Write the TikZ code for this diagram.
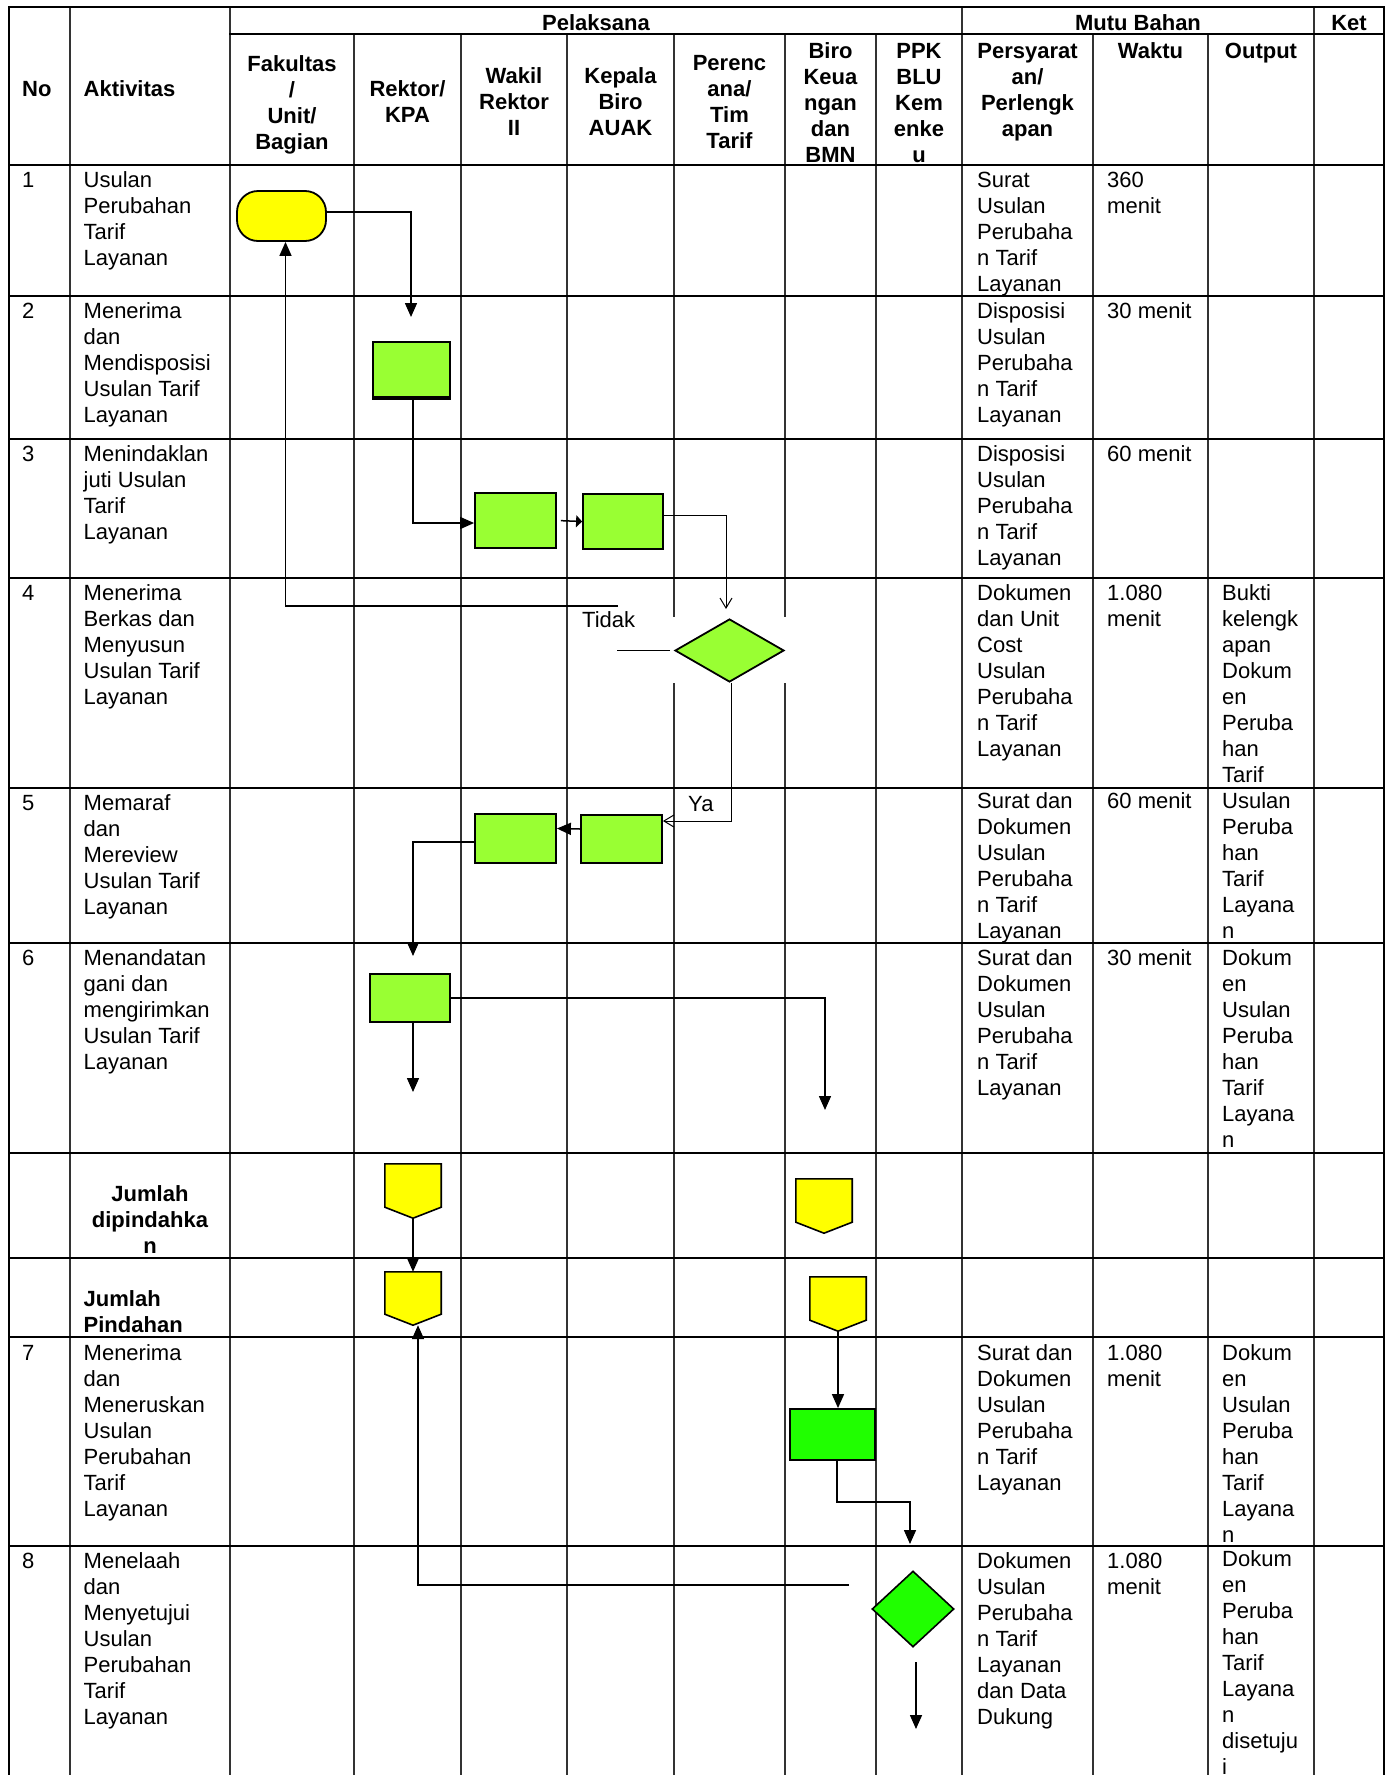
\documentclass[tikz,border=0pt]{standalone}
\usepackage{fontspec}
\setmainfont{Liberation Sans}
\usetikzlibrary{arrows.meta,shapes.geometric,calc}
\definecolor{lgreen}{RGB}{153,255,51}
\definecolor{bgreen}{RGB}{32,255,0}
\definecolor{yel}{RGB}{255,255,0}
\newcommand\bodycell[4]{\node[body] (#1) at (#2,#3) {\strut #4};}
\begin{document}
\begin{tikzpicture}[x=1pt,y=-1pt,
  hl/.style={line width=2.2pt,line cap=rect},
  vl/.style={line width=1.3pt,black!80},
  ob/.style={line width=2.2pt},
  body/.style={font=\fontsize{22}{26}\selectfont,inner sep=0pt,anchor=north west,align=left},
  head/.style={font=\fontsize{22}{26}\selectfont\bfseries,inner sep=0pt,anchor=north,align=center},
  gbox/.style={draw,line width=1.8pt,fill=lgreen,rectangle,inner sep=0pt},
  pent/.style={draw,line width=1.6pt,fill=yel},
  holder/.style={rectangle,inner sep=0pt,draw=none},
  arr/.style={line width=1.5pt,-{Triangle[length=14pt,width=12pt]}},
  sarr/.style={line width=1.5pt,-{Triangle[length=6pt,width=12pt]}},
  oarr/.style={line width=1pt,-{Straight Barb[length=10pt,width=12pt]}},
  pl/.style={line width=1.5pt}]
\fill[white] (0,0) rectangle (1392,1775);
\useasboundingbox (0,0) rectangle (1392,1775);

% ---------- grid ----------
\foreach \x in {354,461,567,674,785,876,1093,1208} \draw[vl] (\x,34) -- (\x,1775);
\foreach \x in {70,230,962,1314} \draw[vl] (\x,7) -- (\x,1775);
\draw[ob] (9,7) -- (9,1775);
\draw[ob] (1384,7) -- (1384,1775);
\draw[hl] (9,7) -- (1384,7);
\draw[hl] (230,34) -- (1384,34);
\foreach \y in {165,296,439,578,788,943,1153,1258,1337,1546} \draw[hl] (9,\y) -- (1384,\y);

% ---------- header ----------
\node[head,anchor=north west] (hno) at (22,77.8) {\strut No};
\node[head,anchor=north west] (hakt) at (83.5,77.8) {\strut Aktivitas};
\node[head] (hpel) at (596,11.8) {\strut Pelaksana};
\node[head] (hmutu) at (1138,11.8) {\strut Mutu Bahan};
\node[head] (hket) at (1349,11.8) {\strut Ket};
\node[head] (hfak) at (292,52.8) {\strut Fakultas\\/\\Unit/\\Bagian};
\node[head] (hrek) at (407.5,77.8) {\strut Rektor/\\KPA};
\node[head] (hwak) at (514,64.8) {\strut Wakil\\Rektor\\II};
\node[head] (hkep) at (620.5,64.8) {\strut Kepala\\Biro\\AUAK};
\node[head] (hper) at (729.5,51.8) {\strut Perenc\\ana/\\Tim\\Tarif};
\node[head] (hbiro) at (830.5,39.8) {\strut Biro\\Keua\\ngan\\dan\\BMN};
\node[head] (hppk) at (919,39.8) {\strut PPK\\BLU\\Kem\\enke\\u};
\node[head] (hsyr) at (1027.5,39.8) {\strut Persyarat\\an/\\Perlengk\\apan};
\node[head] (hwkt) at (1150.5,39.8) {\strut Waktu};
\node[head] (hout) at (1261,39.8) {\strut Output};

% ---------- row texts ----------
\bodycell{no1}{22}{169.3}{1}
\bodycell{no2}{22}{300.3}{2}
\bodycell{no3}{22}{443.3}{3}
\bodycell{no4}{22}{582.3}{4}
\bodycell{no5}{22}{792.3}{5}
\bodycell{no6}{22}{947.3}{6}
\bodycell{no7}{22}{1342.5}{7}
\bodycell{no8}{22}{1550.3}{8}

\bodycell{act1}{83.5}{169.3}{Usulan\\Perubahan\\Tarif\\Layanan}
\bodycell{act2}{83.5}{300.3}{Menerima\\dan\\Mendisposisi\\Usulan Tarif\\Layanan}
\bodycell{act3}{83.5}{443.3}{Menindaklan\\juti Usulan\\Tarif\\Layanan}
\bodycell{act4}{83.5}{582.3}{Menerima\\Berkas dan\\Menyusun\\Usulan Tarif\\Layanan}
\bodycell{act5}{83.5}{792.3}{Memaraf\\dan\\Mereview\\Usulan Tarif\\Layanan}
\bodycell{act6}{83.5}{947.3}{Menandatan\\gani dan\\mengirimkan\\Usulan Tarif\\Layanan}
\node[head] (jd) at (150,1182.8) {\strut Jumlah\\dipindahka\\n};
\node[head,anchor=north west,align=left] (jp) at (83.5,1287.8) {\strut Jumlah\\Pindahan};
\bodycell{act7}{83.5}{1342.5}{Menerima\\dan\\Meneruskan\\Usulan\\Perubahan\\Tarif\\Layanan}
\bodycell{act8}{83.5}{1550.3}{Menelaah\\dan\\Menyetujui\\Usulan\\Perubahan\\Tarif\\Layanan}

\bodycell{syr1}{977}{169.3}{Surat\\Usulan\\Perubaha\\n Tarif\\Layanan}
\bodycell{syr2}{977}{300.3}{Disposisi\\Usulan\\Perubaha\\n Tarif\\Layanan}
\bodycell{syr3}{977}{443.3}{Disposisi\\Usulan\\Perubaha\\n Tarif\\Layanan}
\bodycell{syr4}{977}{582.3}{Dokumen\\dan Unit\\Cost\\Usulan\\Perubaha\\n Tarif\\Layanan}
\bodycell{syr5}{977}{790.3}{Surat dan\\Dokumen\\Usulan\\Perubaha\\n Tarif\\Layanan}
\bodycell{syr6}{977}{947.3}{Surat dan\\Dokumen\\Usulan\\Perubaha\\n Tarif\\Layanan}
\bodycell{syr7}{977}{1342.5}{Surat dan\\Dokumen\\Usulan\\Perubaha\\n Tarif\\Layanan}
\bodycell{syr8}{977}{1550.3}{Dokumen\\Usulan\\Perubaha\\n Tarif\\Layanan\\dan Data\\Dukung}

\bodycell{wkt1}{1107}{169.3}{360\\menit}
\bodycell{wkt2}{1107}{300.3}{30 menit}
\bodycell{wkt3}{1107}{443.3}{60 menit}
\bodycell{wkt4}{1107}{582.3}{1.080\\menit}
\bodycell{wkt5}{1107}{790.3}{60 menit}
\bodycell{wkt6}{1107}{947.3}{30 menit}
\bodycell{wkt7}{1107}{1342.5}{1.080\\menit}
\bodycell{wkt8}{1107}{1550.3}{1.080\\menit}

\bodycell{out4}{1222}{582.3}{Bukti\\kelengk\\apan\\Dokum\\en\\Peruba\\han\\Tarif}
\bodycell{out5}{1222}{790.3}{Usulan\\Peruba\\han\\Tarif\\Layana\\n}
\bodycell{out6}{1222}{947.3}{Dokum\\en\\Usulan\\Peruba\\han\\Tarif\\Layana\\n}
\bodycell{out7}{1222}{1342.5}{Dokum\\en\\Usulan\\Peruba\\han\\Tarif\\Layana\\n}
\bodycell{out8}{1222}{1548}{Dokum\\en\\Peruba\\han\\Tarif\\Layana\\n\\disetuju\\i}

% ---------- white patch behind decision ----------
\fill[white] (673,617) rectangle (787,683);

% ---------- shapes ----------
\node[draw,line width=1.8pt,fill=yel,rounded corners=21pt,minimum width=89pt,minimum height=50pt,inner sep=0pt] (term) at (281.5,216) {};
\node[gbox,minimum width=77pt,minimum height=57pt] (r2) at (411.5,370.5) {};
\draw[line width=4pt] ([yshift=1.5pt]r2.south west) -- ([yshift=1.5pt]r2.south east);
\node[gbox,minimum width=81pt,minimum height=55pt] (w3) at (515.5,520.5) {};
\node[gbox,minimum width=80pt,minimum height=55pt] (k3) at (623,521.5) {};
\node[diamond,draw,line width=1.8pt,fill=lgreen,inner sep=0pt,minimum width=109pt,minimum height=63pt] (d4) at (729.5,650.5) {};
\node[gbox,minimum width=81pt,minimum height=49pt] (w5) at (515.5,838.5) {};
\node[gbox,minimum width=81pt,minimum height=48pt] (k5) at (621.5,839) {};
\node[gbox,minimum width=80pt,minimum height=48pt] (r6) at (410,998) {};

\node[holder,minimum width=56pt,minimum height=54pt] (p1) at (413,1191) {};
\node[holder,minimum width=56pt,minimum height=54pt] (p2) at (824,1206) {};
\node[holder,minimum width=56pt,minimum height=53pt] (p3) at (413,1298.5) {};
\node[holder,minimum width=56pt,minimum height=54pt] (p4) at (838,1304) {};
\foreach \p in {p1,p2,p3,p4}
  \draw[pent] (\p.north west) -- (\p.north east) -- ([yshift=11pt]\p.south east) -- (\p.south) -- ([yshift=11pt]\p.south west) -- cycle;

\node[gbox,fill=bgreen,minimum width=85pt,minimum height=51pt] (g7) at (832.5,1434.5) {};
\node[diamond,draw,line width=1.6pt,fill=bgreen,inner sep=0pt,minimum width=82pt,minimum height=76pt] (d8) at (913,1609) {};

% ---------- free ends ----------
\coordinate (a1) at (411,317);
\coordinate (a4) at (726,609);
\coordinate (t1) at (617,650.5);
\coordinate (t2) at (618,606);
\coordinate (a7) at (413,956);
\coordinate (a8) at (825,1110);
\coordinate (a9) at (413,1092);
\coordinate (m12) at (837,1502);
\coordinate (a12) at (910,1544);
\coordinate (l1) at (849,1585);
\coordinate (b1) at (916,1662);
\coordinate (b2) at (916,1729);

% ---------- connectors ----------
\draw[arr] ([yshift=4pt]term.east) -| (a1);
\draw[arr] ([xshift=1.5pt]r2.south) |- ([yshift=-2.5pt]w3.west);
\draw[sarr,shorten <=4pt] (w3.east) -- (k3.west);
\draw[oarr] ([yshift=6pt]k3.east) -| (a4);
\draw[pl] ([xshift=-4pt]d4.west) -- (t1);
\draw[arr] (t2) -| ([xshift=4pt]term.south);
\node[body,anchor=base west] (tidak) at (582,627) {Tidak};
\draw[oarr] ([xshift=2pt]d4.south) |- ([yshift=18pt]k5.east);
\node[body,anchor=base west] (ya) at (688,811) {Ya};
\draw[arr] ([yshift=10pt]k5.west) -- ([yshift=10pt]w5.east);
\draw[arr] ([yshift=-3.5pt]w5.west) -| (a7);
\draw[arr] (r6.east) -| (a8);
\draw[arr] ([xshift=3pt]r6.south) -- (a9);
\draw[arr] (p1.south) -- (p3.north);
\draw[arr] (p4.south) -- (p4.south |- g7.north);
\draw[arr] (m12 |- g7.south) -- (m12) -| (a12);
\draw[arr] (l1) -| ([xshift=5pt]p3.south);
\draw[arr] (b1) -- (b2);
\end{tikzpicture}
\end{document}
